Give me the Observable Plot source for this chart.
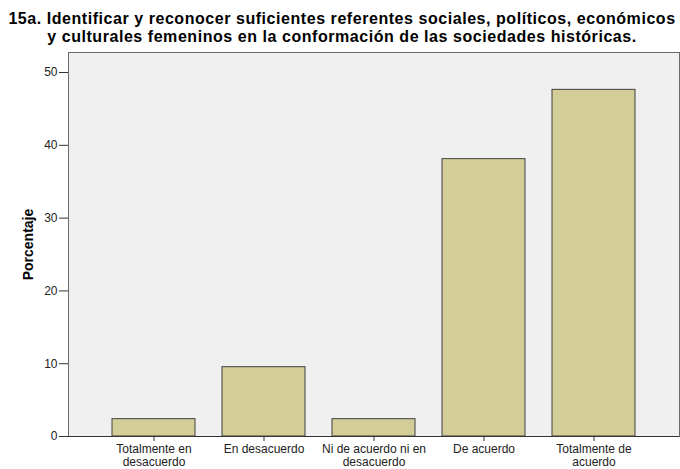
<!DOCTYPE html>
<html>
<head>
<meta charset="utf-8">
<script src="https://cdn.jsdelivr.net/npm/d3@7"></script>
<script src="https://cdn.jsdelivr.net/npm/@observablehq/plot@0.6"></script>
<style>
  html, body { margin: 0; padding: 0; background: #ffffff; }
  #wrap { width: 680px; height: 469px; overflow: hidden; font-family: "Liberation Sans", Arial, sans-serif; }
  #title { height: 46px; box-sizing: border-box; padding-top: 10px; padding-left: 4px; text-align: center; font-weight: bold; font-size: 16px; letter-spacing: 0.55px; line-height: 18.4px; color: #000; white-space: nowrap; }
  svg { display: block; }
</style>
</head>
<body>
<div id="wrap">
  <div id="title">15a. Identificar y reconocer suficientes referentes sociales, políticos, económicos<br>y culturales femeninos en la conformación de las sociedades históricas.</div>
  <div id="chart"></div>
</div>
<script>
const categories = ["Totalmente en desacuerdo", "En desacuerdo", "Ni de acuerdo ni en desacuerdo", "De acuerdo", "Totalmente de acuerdo"];
const tickLabels = ["Totalmente en\ndesacuerdo", "En desacuerdo", "Ni de acuerdo ni en\ndesacuerdo", "De acuerdo", "Totalmente de\nacuerdo"];
const percentages = [2.38, 9.52, 2.38, 38.10, 47.62];
const yTicks = [0, 10, 20, 30, 40, 50];
const yLabel = "Porcentaje";

const data = categories.map((c, i) => ({cat: c, pct: percentages[i]}));

const chart = Plot.plot({
  width: 680,
  height: 423,
  marginTop: 6,
  marginLeft: 68,
  marginRight: 1,
  marginBottom: 33,
  style: {fontFamily: "'Liberation Sans', Arial, sans-serif", fontSize: "12px", color: "#222", background: "transparent"},
  x: {domain: categories, paddingInner: 0.25, paddingOuter: 0.125, insetLeft: 30, insetRight: 30},
  y: {domain: [0, 52.75]},
  marks: [
    Plot.frame({fill: "#f0f0f0", stroke: "#6a6a6a"}),
    Plot.barY(data, {x: "cat", y: "pct", fill: "#d3ce97", stroke: "#3f3f3f", strokeWidth: 1}),
    Plot.axisX({tickFormat: (d) => tickLabels[categories.indexOf(d)], tickSize: 5, tickPadding: 3, lineHeight: 1.05, label: null, stroke: "#333"}),
    Plot.axisY({ticks: yTicks, tickSize: 9, tickPadding: 2, label: null, stroke: "#333"}),
    Plot.ruleY([0], {stroke: "#333"}),
    Plot.text([yLabel], {frameAnchor: "left", textAnchor: "middle", rotate: -90, dx: -40, fontWeight: "bold", fontSize: 14, fill: "#000"})
  ]
});
document.getElementById("chart").appendChild(chart);
</script>
</body>
</html>
